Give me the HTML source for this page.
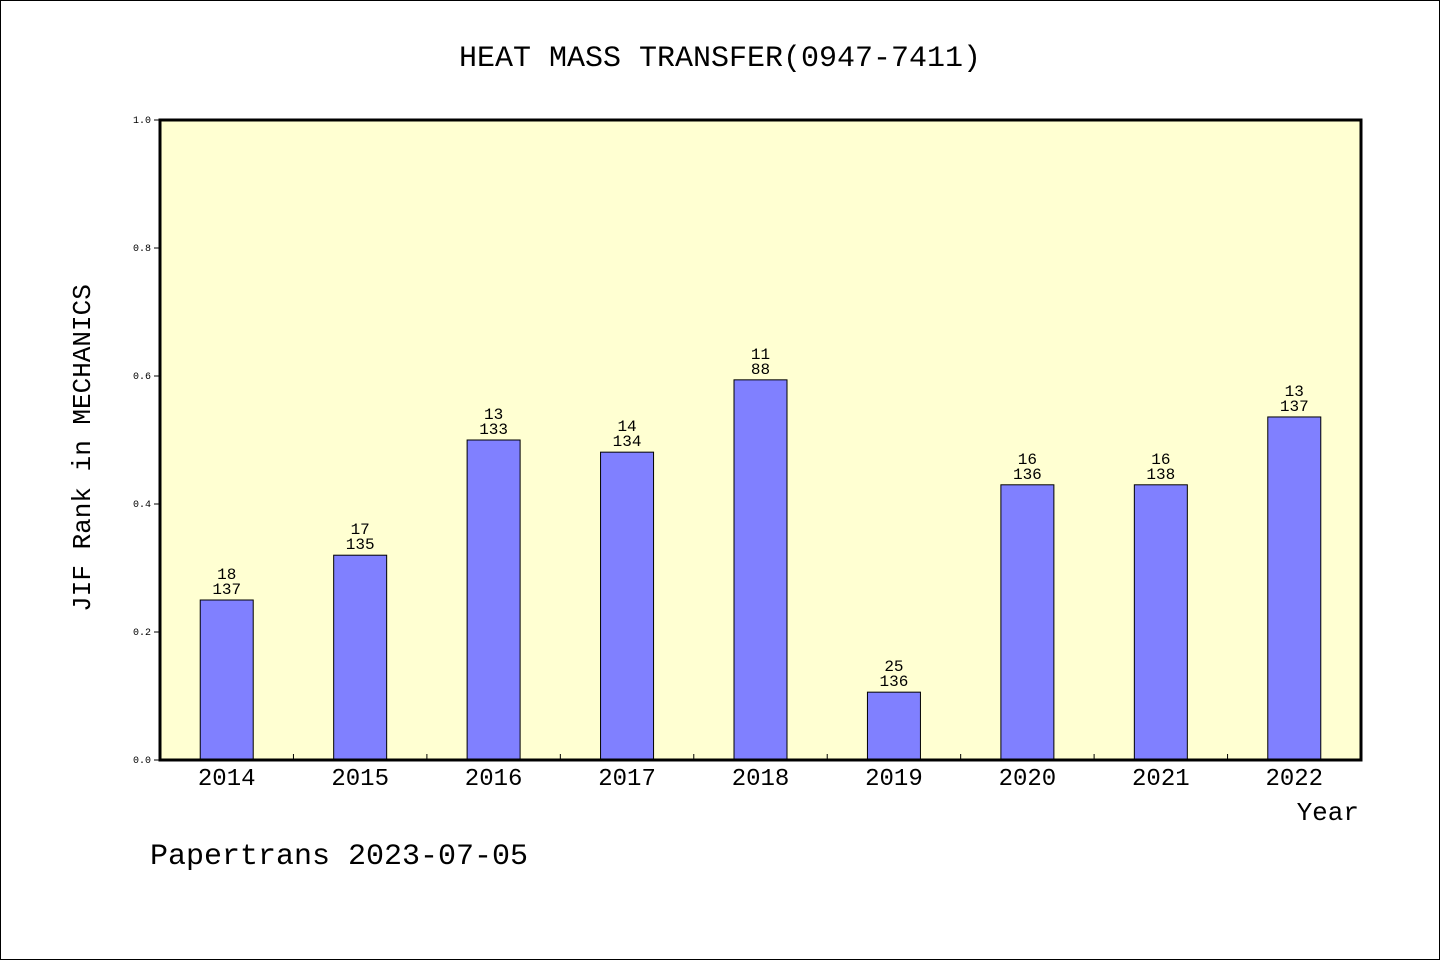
<!DOCTYPE html>
<html><head><meta charset="utf-8"><style>
html,body{margin:0;padding:0;background:#fff;}
svg{display:block;}
text{font-family:"Liberation Mono","Noto Sans CJK SC",monospace;fill:#000;}
</style></head><body>
<svg id="chart" width="1440" height="960" xmlns="http://www.w3.org/2000/svg">
<rect x="0.5" y="0.5" width="1439" height="959" fill="#fff" stroke="#000"/>
<text x="720" y="66" font-size="30" text-anchor="middle">HEAT MASS TRANSFER(0947-7411)</text>
<rect x="160" y="120" width="1201" height="640" fill="#ffffd2"/>
<g id="bars"></g>
<g id="axes"></g>
<rect x="160" y="120" width="1201" height="640" fill="none" stroke="#000" stroke-width="3"/>
<text x="90" y="448" font-size="26" text-anchor="middle" transform="rotate(-90 90 448)">JIF Rank in MECHANICS</text>
<text x="1359" y="820" font-size="26" text-anchor="end">Year</text>
<text x="150" y="864" font-size="30">Papertrans 2023-07-05</text>
</svg>
<script>
const categories=["2014","2015","2016","2017","2018","2019","2020","2021","2022"];
const values=[0.25,0.32,0.5,0.481,0.594,0.106,0.43,0.43,0.536];
const ranks=["18","17","13","14","11","25","16","16","13"];
const totals=["137","135","133","134","88","136","136","138","137"];
const yTicks=[0,0.2,0.4,0.6,0.8,1.0];
const yTickLabels=["0.0","0.2","0.4","0.6","0.8","1.0"];
const NS="http://www.w3.org/2000/svg";
const L=160,R=1361,T=120,B=760;
const bw=(R-L)/categories.length;
function xs(i){return L+bw*(i+0.5);}
function ys(v){return B-(B-T)*v;}
function mk(tag,attrs,parent){const e=document.createElementNS(NS,tag);for(const k in attrs)e.setAttribute(k,attrs[k]);parent.appendChild(e);return e;}
const gb=document.getElementById('bars'),ga=document.getElementById('axes');
categories.forEach((c,i)=>{
  const x=xs(i),y=ys(values[i]);
  const r=mk('rect',{x:x-26.5,y:y,width:53,height:B-y,fill:'#8080ff',stroke:'#000','stroke-width':1},gb);
  
  
  const t1=mk('text',{x:x,y:y-21,'font-size':16,'text-anchor':'middle'},gb);t1.textContent=ranks[i];
  
  
  const t2=mk('text',{x:x,y:y-6,'font-size':16,'text-anchor':'middle'},gb);t2.textContent=totals[i];
  
  
  const xl=mk('text',{x:x,y:785,'font-size':24,'text-anchor':'middle'},ga);xl.textContent=c;
  
  
  if(i>0){const tk=mk('line',{x1:L+bw*i,x2:L+bw*i,y1:B,y2:B-6,stroke:'#000'},ga);
  
  }
});
yTicks.forEach((v,i)=>{
  const y=ys(v);
  const tk=mk('line',{x1:L-6,x2:L,y1:y,y2:y,stroke:'#000'},ga);
  
  
  const t=mk('text',{x:L-9,y:y+3,'font-size':10,'text-anchor':'end'},ga);t.textContent=yTickLabels[i];
  
  
});
</script>
</body></html>
